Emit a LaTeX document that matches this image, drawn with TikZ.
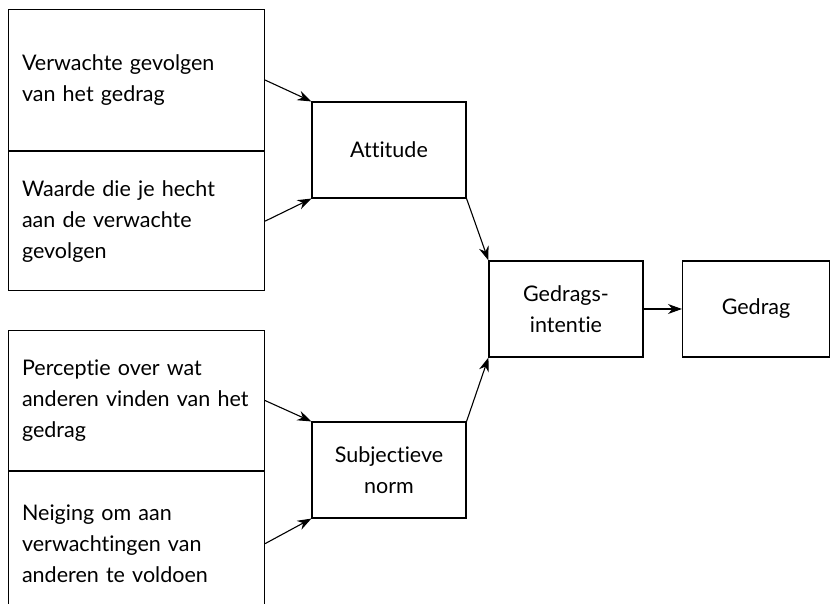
\documentclass[tikz,border=0pt]{standalone}
\usepackage{fontspec}
\setmainfont{Lato}[Ligatures=NoCommon]
\usetikzlibrary{arrows.meta,positioning}

\tikzset{
  txt/.style={font=\fontsize{21.5}{31}\selectfont},
  leftbox/.style={draw, txt, line width=1.1pt, anchor=north west, minimum width=256,
    text width=229, inner xsep=13.5pt, inner ysep=0pt, align=left},
  midbox/.style={draw, txt, line width=1.1pt, minimum width=154, minimum height=96,
    inner sep=0pt, align=center},
  link/.style={line width=1.1pt, -{Stealth[length=14pt,width=10pt]}}
}

\begin{document}
\begin{tikzpicture}[x=1pt, y=-1pt]
  \useasboundingbox (0,0) rectangle (831,604);
  \clip (0,0) rectangle (831,604);

  % left column
  \node[leftbox, minimum height=141] (verw) at (8,9) {Verwachte gevolgen\\van het gedrag};
  \node[leftbox, minimum height=139] (waarde) at (verw.south west) {Waarde die je hecht\\aan de verwachte\\gevolgen};
  \node[leftbox, minimum height=140] (perc) at (8,330) {Perceptie over wat\\anderen vinden van het\\gedrag};
  \node[leftbox, minimum height=144] (neig) at (perc.south west) {Neiging om aan\\verwachtingen van\\anderen te voldoen};

  % middle and right
  \node[midbox] (att) at (389,150) {Attitude};
  \node[midbox] (norm) at (389,470) {Subjectieve\\norm};
  \node[midbox] (int) at (566,309) {Gedrags-\\intentie};
  \node[midbox, minimum width=147] (ged) at (756,309) {Gedrag};

  \draw[link] (verw.east) -- (att.north west);
  \draw[link] (waarde.east) -- (att.south west);
  \draw[link] (perc.east) -- (norm.north west);
  \draw[link] (neig.east) -- (norm.south west);
  \draw[link] (att.south east) -- (int.north west);
  \draw[link] (norm.north east) -- (int.south west);
  \draw[link] (int.east) -- (ged.west);
\end{tikzpicture}
\end{document}
